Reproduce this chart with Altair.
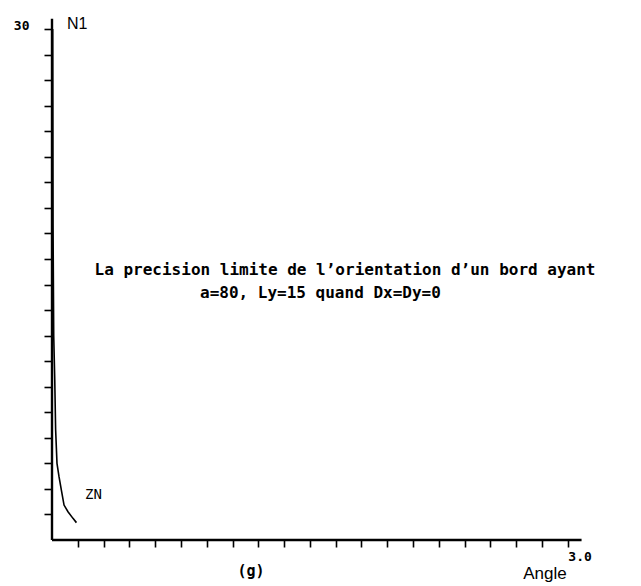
import altair as alt
import pandas as pd

# Limit precision curve N1 versus angle (g)
angle = [0.004, 0.006, 0.010, 0.016, 0.021, 0.029, 0.041, 0.055, 0.070, 0.093, 0.122, 0.142]
n1 = [30.0, 18.5, 12.0, 9.4, 6.5, 4.5, 3.7, 2.9, 2.05, 1.66, 1.27, 1.02]

x_ticks = [round(0.15 * k, 2) for k in range(1, 21)]
y_ticks = [round(1.5 * k, 1) for k in range(1, 21)]

curve = pd.DataFrame({"angle": angle, "n1": n1})

W, H = 533, 528
x_scale = alt.Scale(domain=[0, 3.1], nice=False, zero=False)
y_scale = alt.Scale(domain=[0, 31], nice=False, zero=False)

mono = "DejaVu Sans Mono"
sans = "Liberation Sans"

x_axis = alt.Axis(values=x_ticks, domain=False, grid=False, tickSize=7, tickWidth=1.6,
                  tickColor="black", labelExpr="datum.value == 3 ? '3.0' : ''",
                  labelFont=mono, labelFontWeight="bold", labelFontSize=13,
                  labelColor="black", labelAlign="left", labelPadding=3,
                  labelOverlap=False, labelFlush=False, title=None)
y_axis = alt.Axis(values=y_ticks, domain=False, grid=False, tickSize=8, tickWidth=1.6,
                  tickColor="black", labelExpr="datum.value == 30 ? '30' : ''",
                  labelFont=mono, labelFontWeight="bold", labelFontSize=13,
                  labelColor="black", labelBaseline="alphabetic", labelPadding=15,
                  labelOverlap=False, labelFlush=False, title=None)

line = alt.Chart(curve).mark_line(color="black", strokeWidth=1.6).encode(
    x=alt.X("angle:Q", scale=x_scale, axis=x_axis),
    y=alt.Y("n1:Q", scale=y_scale, axis=y_axis),
    order="n1:Q",
)

axis_lines = pd.DataFrame({"x": [0, 0], "x2": [3.08, 0], "y": [0, 0], "y2": [0, 30.6]})
frame = alt.Chart(axis_lines).mark_rule(color="black", strokeWidth=2.4).encode(
    x=alt.X("x:Q", scale=x_scale, axis=x_axis), x2="x2:Q",
    y=alt.Y("y:Q", scale=y_scale, axis=y_axis), y2="y2:Q",
)

def label(text, x, y, font, size, weight="normal", align="left"):
    return alt.Chart(pd.DataFrame({"t": [text]})).mark_text(
        font=font, fontSize=size, fontWeight=weight, align=align,
        baseline="alphabetic", color="black",
    ).encode(text="t:N", x=alt.value(x - 52), y=alt.value(y - 12))

texts = [
    label("La precision limite de l\u2019orientation d\u2019un bord ayant", 345, 275, mono, 16, "bold", "center"),
    label("a=80, Ly=15 quand Dx=Dy=0", 200, 298, mono, 16, "bold"),
    label("ZN", 85, 499, mono, 14),
    label("N1", 67, 29, sans, 16),
    label("(g)", 251, 576, mono, 15, "bold", "center"),
    label("Angle", 545, 579, sans, 17, "normal", "center"),
]

chart = alt.layer(line, frame, *texts).properties(
    width=W, height=H,
    padding={"left": 52, "top": 12, "right": 56, "bottom": 46},
    autosize="none",
    background="white",
).configure_view(stroke="transparent", strokeWidth=0)

chart.save("out.html", embed_options={"renderer": "svg", "actions": False})
